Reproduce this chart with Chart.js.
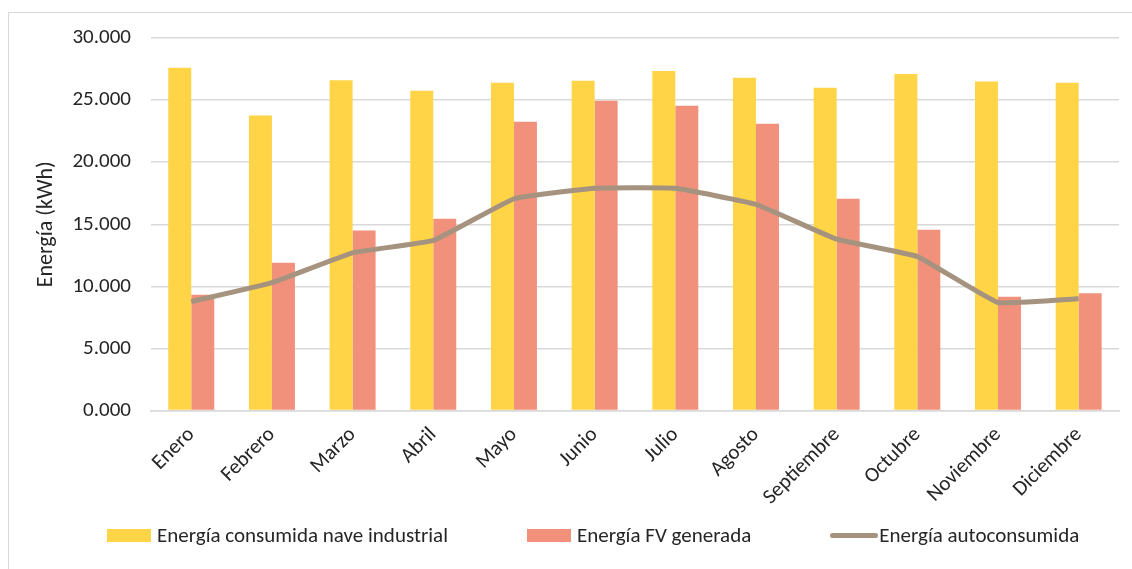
<!DOCTYPE html>
<html>
<head>
<meta charset="utf-8">
<script src="https://cdn.jsdelivr.net/npm/chart.js@4.4.1/dist/chart.umd.min.js"></script>
<style>
  html, body { margin:0; padding:0; background:#fff; overflow:hidden; }
  #frame { position:absolute; left:8px; top:12px; width:1200px; height:600px; border:1.5px solid #d9d9d9; box-sizing:border-box; }
  #wrap { position:absolute; left:0; top:0; width:1180px; height:569px; }
  #legend { position:absolute; left:107px; top:522px; display:flex; align-items:center; font-family:Carlito, "Open Sans", sans-serif; font-size:21px; color:#262626; white-space:nowrap; }
  #legend .item { display:flex; align-items:center; margin-right:79px; }
  #legend .sw { display:inline-block; margin-right:6px; }
</style>
</head>
<body>
<div id="frame"></div>
<div id="wrap"><canvas id="chart"></canvas></div>
<div id="legend"></div>
<script>
'use strict';

const months = ['Enero','Febrero','Marzo','Abril','Mayo','Junio','Julio','Agosto','Septiembre','Octubre','Noviembre','Diciembre'];
const consumida = [27600, 23750, 26600, 25750, 26400, 26550, 27350, 26800, 26000, 27100, 26500, 26400];
const generada  = [9330, 11900, 14500, 15450, 23250, 24950, 24550, 23100, 17050, 14550, 9170, 9450];
const autoconsumida = [8770, 10300, 12700, 13700, 17050, 17900, 17900, 16600, 13800, 12400, 8700, 9000];
const yTickLabels = ['0.000','5.000','10.000','15.000','20.000','25.000','30.000'];

const FONT = 'Carlito, "Open Sans", sans-serif';
const TXT = '#262626';

const chart = new Chart(document.getElementById('chart'), {
  data: {
    labels: months,
    datasets: [
      { type:'line', label:'Energía autoconsumida', data:autoconsumida, borderColor:'#a6937f', backgroundColor:'#a6937f',
        borderWidth:5, pointRadius:0, tension:0.1, order:0 },
      { type:'bar', label:'Energía consumida nave industrial', data:consumida, backgroundColor:'#ffd447',
        categoryPercentage:0.57, barPercentage:1, order:1 },
      { type:'bar', label:'Energía FV generada', data:generada, backgroundColor:'#f1917b',
        categoryPercentage:0.57, barPercentage:1, order:1 },
    ],
  },
  options: {
    responsive:true, maintainAspectRatio:false, animation:false,
    layout:{ padding:{ left:33, right:61, top:38, bottom:55 } },
    plugins:{ legend:{ display:false }, tooltip:{ enabled:false } },
    scales:{
      x:{
        grid:{ display:false },
        border:{ color:'#d9d9d9', width:1.5 },
        ticks:{ color:TXT, font:{ family:FONT, size:21 }, maxRotation:45, minRotation:45, padding:4 },
      },
      y:{
        min:0, max:30000,
        grid:{ color:'#d9d9d9', lineWidth:1.5, drawTicks:false },
        border:{ display:false },
        ticks:{ stepSize:5000, color:TXT, font:{ family:FONT, size:21 }, padding:20,
          callback:(v, i) => yTickLabels[i] },
        title:{ display:true, text:'Energía (kWh)', color:TXT, font:{ family:FONT, size:22 }, padding:{ top:0, bottom:-7 } },
      },
    },
  },
});

// legend in the reference order: bars first, then the line
const legend = document.getElementById('legend');
[1, 2, 0].forEach(i => {
  const ds = chart.data.datasets[i];
  const isLine = ds.type === 'line';
  const item = document.createElement('span');
  item.className = 'item';
  const sw = document.createElement('span');
  sw.className = 'sw';
  sw.style.background = isLine ? ds.borderColor : ds.backgroundColor;
  sw.style.width = isLine ? '48px' : '44px';
  sw.style.height = isLine ? '5px' : '13px';
  if (isLine) { sw.style.borderRadius = '3px'; sw.style.marginRight = '1px'; }
  item.appendChild(sw);
  item.appendChild(document.createTextNode(ds.label));
  legend.appendChild(item);
});
</script>
</body>
</html>
